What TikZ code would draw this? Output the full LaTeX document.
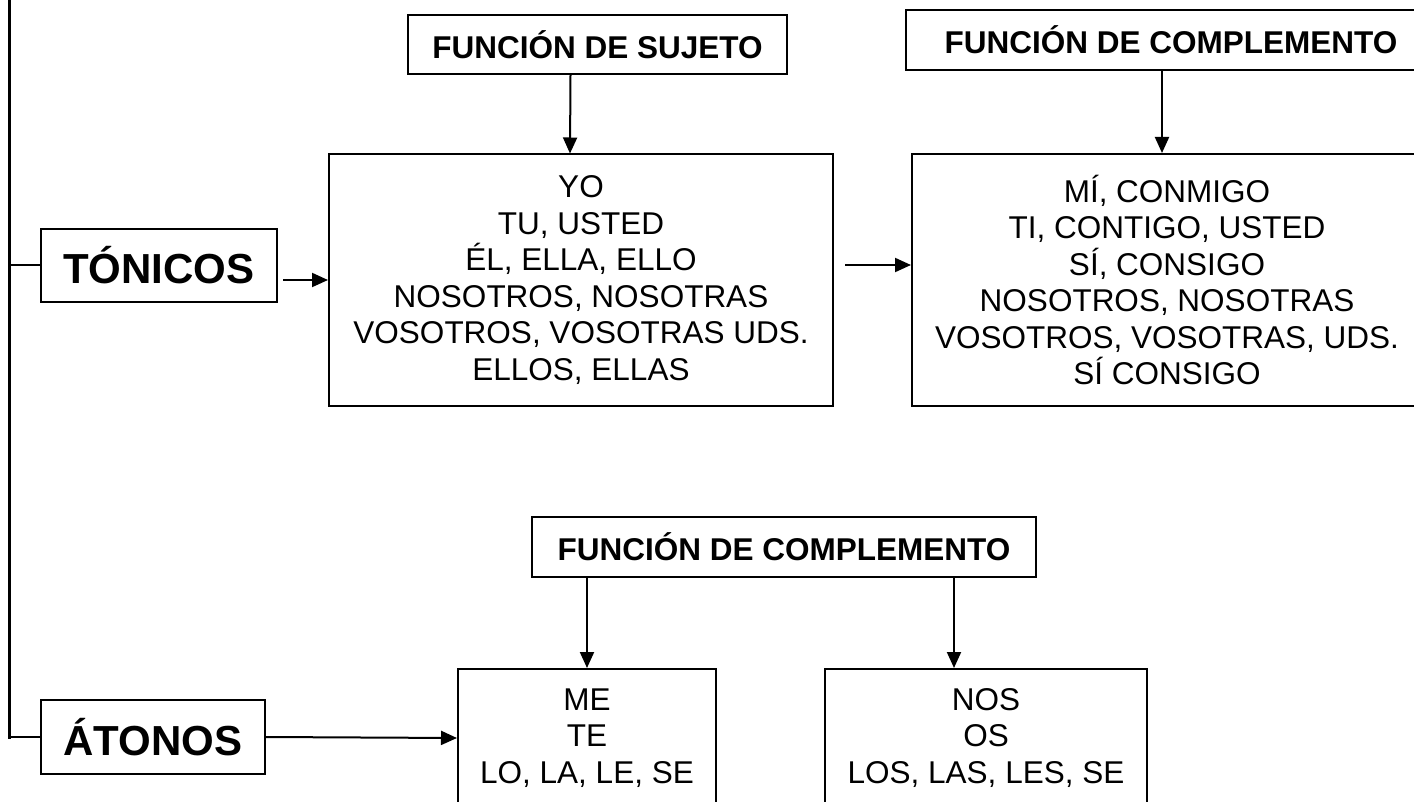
\documentclass[tikz,border=0pt]{standalone}
\usepackage{fontspec}
\setmainfont{Liberation Sans}
\usetikzlibrary{positioning, arrows.meta}

\begin{document}
\begin{tikzpicture}[
    x=1pt, y=-1pt,
    kind/.style={rectangle,
        draw=black,
        line width=2pt,
        font=\fontsize{42}{48}\selectfont\bfseries,
        inner sep=0pt,
        },
    title/.style={rectangle,
        draw=black,
        line width=2pt,
        font=\fontsize{31.5}{36}\selectfont\bfseries,
        minimum height=60pt,
        inner sep=0pt,
        },
    list/.style={rectangle,
        draw=black,
        line width=2pt,
        align=center,
        font=\fontsize{31.5}{36.5}\selectfont,
        inner sep=0pt,
        },
    arr/.style={line width=2pt, -{Triangle[length=16pt, width=14pt]}},
    trunk/.style={line width=3pt, line cap=rect},
    branch/.style={line width=2pt},
    ]
    \useasboundingbox (0,0) rectangle (1414,802);
    \clip (0,0) rectangle (1414,802);

    \node[kind, minimum width=236pt, minimum height=73pt] (ton) at (159,265.5) {TÓNICOS};
    \node[kind, minimum width=224pt, minimum height=74pt] (ato) at (153,737) {ÁTONOS};

    \node[title, minimum width=379pt, minimum height=59pt] (fsuj) at (597.5,44.5) {FUNCIÓN DE SUJETO};
    \node[title, minimum width=530pt] (fcomp) at (1171,40) {FUNCIÓN DE COMPLEMENTO};
    \node[title, minimum width=504pt] (fcompat) at (784,547) {FUNCIÓN DE COMPLEMENTO};

    \node[list, minimum width=504pt, minimum height=251pt] (suj) at (581,280)
        {YO\\TU, USTED\\ÉL, ELLA, ELLO\\NOSOTROS, NOSOTRAS\\VOSOTROS, VOSOTRAS UDS.\\ELLOS, ELLAS};
    \node[list, minimum width=510pt, minimum height=252pt] (comp) at (1167,280)
        {MÍ, CONMIGO\\TI, CONTIGO, USTED\\SÍ, CONSIGO\\NOSOTROS, NOSOTRAS\\VOSOTROS, VOSOTRAS, UDS.\\SÍ CONSIGO};
    \node[list, minimum width=258pt, minimum height=138pt] (sing) at (587,738) {ME\\TE\\LO, LA, LE, SE};
    \node[list, minimum width=322pt, minimum height=138pt] (plur) at (986,738) {NOS\\OS\\LOS, LAS, LES, SE};

    % left trunk
    \coordinate (top) at (9,-10);
    \draw[trunk] (top) -- (top |- ato.west);
    \draw[branch] (top |- ton.west) -- (ton.west);
    \draw[branch] (top |- ato.west) -- (ato.west);

    \coordinate (tonout) at ([xshift=5pt]ton.east);
    \coordinate (plurin) at ([xshift=-32pt]plur.north);
    \draw[arr] (tonout |- suj.west) -- (suj.west);
    \draw[arr] ([xshift=11pt, yshift=15pt]suj.east) -- ([yshift=15pt]comp.west);
    \draw[arr] ([xshift=-27pt]fsuj.south) -- ([xshift=-11pt]suj.north);
    \draw[arr] ([xshift=-9pt]fcomp.south) -- ([xshift=-5pt]comp.north);
    \draw[arr] (fcompat.south -| sing.north) -- (sing.north);
    \draw[arr] (fcompat.south -| plurin) -- (plurin);
    \draw[arr] (ato.east) -- (sing.west);
\end{tikzpicture}
\end{document}
